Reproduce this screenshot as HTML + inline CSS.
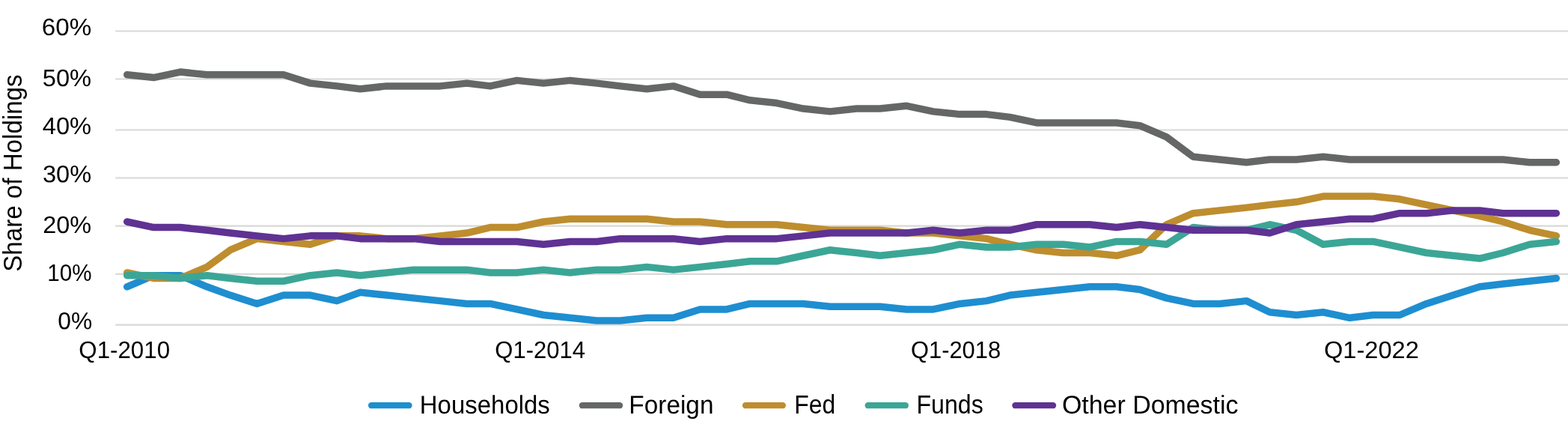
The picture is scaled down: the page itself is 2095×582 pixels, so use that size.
<!DOCTYPE html>
<html lang="en"><head><meta charset="utf-8"><title>Share of Holdings</title>
<style>html,body{margin:0;padding:0;background:#fff;}body{width:2095px;height:582px;overflow:hidden;}svg{display:block;}text{font-family:"Liberation Sans",sans-serif;fill:#000;}</style></head><body>
<svg width="2095" height="582" viewBox="0 0 2095 582">
<rect width="2095" height="582" fill="#fff"/>
<g stroke="#d8d8d6" stroke-width="2.1" fill="none">
<line x1="154.3" x2="2095" y1="41.50" y2="41.50"/>
<line x1="154.3" x2="2095" y1="105.50" y2="105.50"/>
<line x1="154.3" x2="2095" y1="173.50" y2="173.50"/>
<line x1="154.3" x2="2095" y1="237.50" y2="237.50"/>
<line x1="154.3" x2="2095" y1="301.60" y2="301.60"/>
<line x1="154.3" x2="2095" y1="365.85" y2="365.85"/>
<line x1="154.3" x2="2095" y1="433.60" y2="433.60"/>
</g>
<g fill="none" stroke-width="9.50" stroke-linecap="round" stroke-linejoin="round">
<polyline stroke="#1e8ed0" points="169.70,382.78 205.31,367.68 240.92,367.68 276.54,382.78 307.70,394.09 343.31,405.41 378.92,394.09 414.53,394.09 450.14,401.64 481.31,390.32 516.92,394.09 552.53,397.87 588.14,401.64 623.75,405.41 654.91,405.41 690.53,412.96 726.14,420.50 761.75,424.28 797.36,428.05 828.52,428.05 864.13,424.28 899.75,424.28 935.36,412.96 970.97,412.96 1002.13,405.41 1037.74,405.41 1073.35,405.41 1108.97,409.19 1144.58,409.19 1175.74,409.19 1211.35,412.96 1246.96,412.96 1282.58,405.41 1318.19,401.64 1349.35,394.09 1384.96,390.32 1420.57,386.55 1456.18,382.78 1491.80,382.78 1522.96,386.55 1558.57,397.87 1594.18,405.41 1629.79,405.41 1665.40,401.64 1696.56,416.73 1732.18,420.50 1767.79,416.73 1803.40,424.28 1834.56,420.50 1870.17,420.50 1905.79,405.41 1941.40,394.09 1977.01,382.78 2008.17,379.00 2043.78,375.23 2079.39,371.46"/>
<polyline stroke="#656766" points="169.70,99.80 205.31,103.57 240.92,96.03 276.54,99.80 307.70,99.80 343.31,99.80 378.92,99.80 414.53,111.12 450.14,114.89 481.31,118.66 516.92,114.89 552.53,114.89 588.14,114.89 623.75,111.12 654.91,114.89 690.53,107.35 726.14,111.12 761.75,107.35 797.36,111.12 828.52,114.89 864.13,118.66 899.75,114.89 935.36,126.21 970.97,126.21 1002.13,133.76 1037.74,137.53 1073.35,145.08 1108.97,148.85 1144.58,145.08 1175.74,145.08 1211.35,141.30 1246.96,148.85 1282.58,152.62 1318.19,152.62 1349.35,156.39 1384.96,163.94 1420.57,163.94 1456.18,163.94 1491.80,163.94 1522.96,167.71 1558.57,182.81 1594.18,209.22 1629.79,212.99 1665.40,216.76 1696.56,212.99 1732.18,212.99 1767.79,209.22 1803.40,212.99 1834.56,212.99 1870.17,212.99 1905.79,212.99 1941.40,212.99 1977.01,212.99 2008.17,212.99 2043.78,216.76 2079.39,216.76"/>
<polyline stroke="#be8d2e" points="169.70,363.91 205.31,371.46 240.92,371.46 276.54,356.36 307.70,333.73 343.31,318.63 378.92,322.41 414.53,326.18 450.14,314.86 481.31,314.86 516.92,318.63 552.53,318.63 588.14,314.86 623.75,311.09 654.91,303.54 690.53,303.54 726.14,296.00 761.75,292.22 797.36,292.22 828.52,292.22 864.13,292.22 899.75,296.00 935.36,296.00 970.97,299.77 1002.13,299.77 1037.74,299.77 1073.35,303.54 1108.97,307.31 1144.58,307.31 1175.74,307.31 1211.35,311.09 1246.96,311.09 1282.58,314.86 1318.19,318.63 1349.35,326.18 1384.96,333.73 1420.57,337.50 1456.18,337.50 1491.80,341.27 1522.96,333.73 1558.57,299.77 1594.18,284.68 1629.79,280.90 1665.40,277.13 1696.56,273.36 1732.18,269.58 1767.79,262.04 1803.40,262.04 1834.56,262.04 1870.17,265.81 1905.79,273.36 1941.40,280.90 1977.01,288.45 2008.17,296.00 2043.78,307.31 2079.39,314.86"/>
<polyline stroke="#3ba696" points="169.70,367.68 205.31,367.68 240.92,371.46 276.54,367.68 307.70,371.46 343.31,375.23 378.92,375.23 414.53,367.68 450.14,363.91 481.31,367.68 516.92,363.91 552.53,360.14 588.14,360.14 623.75,360.14 654.91,363.91 690.53,363.91 726.14,360.14 761.75,363.91 797.36,360.14 828.52,360.14 864.13,356.36 899.75,360.14 935.36,356.36 970.97,352.59 1002.13,348.82 1037.74,348.82 1073.35,341.27 1108.97,333.73 1144.58,337.50 1175.74,341.27 1211.35,337.50 1246.96,333.73 1282.58,326.18 1318.19,329.95 1349.35,329.95 1384.96,326.18 1420.57,326.18 1456.18,329.95 1491.80,322.41 1522.96,322.41 1558.57,326.18 1594.18,303.54 1629.79,307.31 1665.40,307.31 1696.56,299.77 1732.18,307.31 1767.79,326.18 1803.40,322.41 1834.56,322.41 1870.17,329.95 1905.79,337.50 1941.40,341.27 1977.01,345.05 2008.17,337.50 2043.78,326.18 2079.39,322.41"/>
<polyline stroke="#5f3293" points="169.70,296.00 205.31,303.54 240.92,303.54 276.54,307.31 307.70,311.09 343.31,314.86 378.92,318.63 414.53,314.86 450.14,314.86 481.31,318.63 516.92,318.63 552.53,318.63 588.14,322.41 623.75,322.41 654.91,322.41 690.53,322.41 726.14,326.18 761.75,322.41 797.36,322.41 828.52,318.63 864.13,318.63 899.75,318.63 935.36,322.41 970.97,318.63 1002.13,318.63 1037.74,318.63 1073.35,314.86 1108.97,311.09 1144.58,311.09 1175.74,311.09 1211.35,311.09 1246.96,307.31 1282.58,311.09 1318.19,307.31 1349.35,307.31 1384.96,299.77 1420.57,299.77 1456.18,299.77 1491.80,303.54 1522.96,299.77 1558.57,303.54 1594.18,307.31 1629.79,307.31 1665.40,307.31 1696.56,311.09 1732.18,299.77 1767.79,296.00 1803.40,292.22 1834.56,292.22 1870.17,284.68 1905.79,284.68 1941.40,280.90 1977.01,280.90 2008.17,284.68 2043.78,284.68 2079.39,284.68"/>
</g>
<g font-size="32">
<text transform="translate(55.74,47.00) matrix(1 0.0005 0 1 0 0) scale(1.0375,1)">60%</text>
<text transform="translate(56.77,115.00) matrix(1 0.0005 0 1 0 0) scale(1.0211,1)">50%</text>
<text transform="translate(56.78,178.90) matrix(1 0.0005 0 1 0 0) scale(1.0209,1)">40%</text>
<text transform="translate(56.98,243.15) matrix(1 0.0005 0 1 0 0) scale(1.0178,1)">30%</text>
<text transform="translate(57.28,310.90) matrix(1 0.0005 0 1 0 0) scale(1.0130,1)">20%</text>
<text transform="translate(63.28,375.10) matrix(1 0.0005 0 1 0 0) scale(0.9257,1)">10%</text>
<text transform="translate(77.31,439.30) matrix(1 0.0005 0 1 0 0) scale(0.9932,1)">0%</text>
<text transform="translate(105.34,477.90) matrix(1 0.0005 0 1 0 0) scale(0.9778,1)">Q1-2010</text>
<text transform="translate(661.35,477.90) matrix(1 0.0005 0 1 0 0) scale(0.9697,1)">Q1-2014</text>
<text transform="translate(1216.96,477.90) matrix(1 0.0005 0 1 0 0) scale(0.9655,1)">Q1-2018</text>
<text transform="translate(1768.97,477.90) matrix(1 0.0005 0 1 0 0) scale(1.0189,1)">Q1-2022</text>
</g>
<text transform="translate(28.6,362.73) rotate(-90) scale(0.9578,1)" font-size="34.6">Share of Holdings</text>
<g stroke-width="8.3" stroke-linecap="round" fill="none">
<line x1="496.15" x2="546.45" y1="541.2" y2="541.2" stroke="#1e8ed0"/>
<line x1="777.95" x2="828.05" y1="541.2" y2="541.2" stroke="#656766"/>
<line x1="996.05" x2="1045.85" y1="541.2" y2="541.2" stroke="#be8d2e"/>
<line x1="1159.75" x2="1209.85" y1="541.2" y2="541.2" stroke="#3ba696"/>
<line x1="1356.45" x2="1407.00" y1="541.2" y2="541.2" stroke="#5f3293"/>
</g><g font-size="34.2">
<text transform="translate(560.80,552.00) matrix(1 0.0005 0 1 0 0) scale(0.9638,1)">Households</text>
<text transform="translate(840.37,552.00) matrix(1 0.0005 0 1 0 0) scale(0.9757,1)">Foreign</text>
<text transform="translate(1061.19,552.00) matrix(1 0.0005 0 1 0 0) scale(0.9333,1)">Fed</text>
<text transform="translate(1224.47,552.00) matrix(1 0.0005 0 1 0 0) scale(0.9396,1)">Funds</text>
<text transform="translate(1418.91,552.00) matrix(1 0.0005 0 1 0 0) scale(0.9923,1)">Other Domestic</text>
</g></svg></body></html>
